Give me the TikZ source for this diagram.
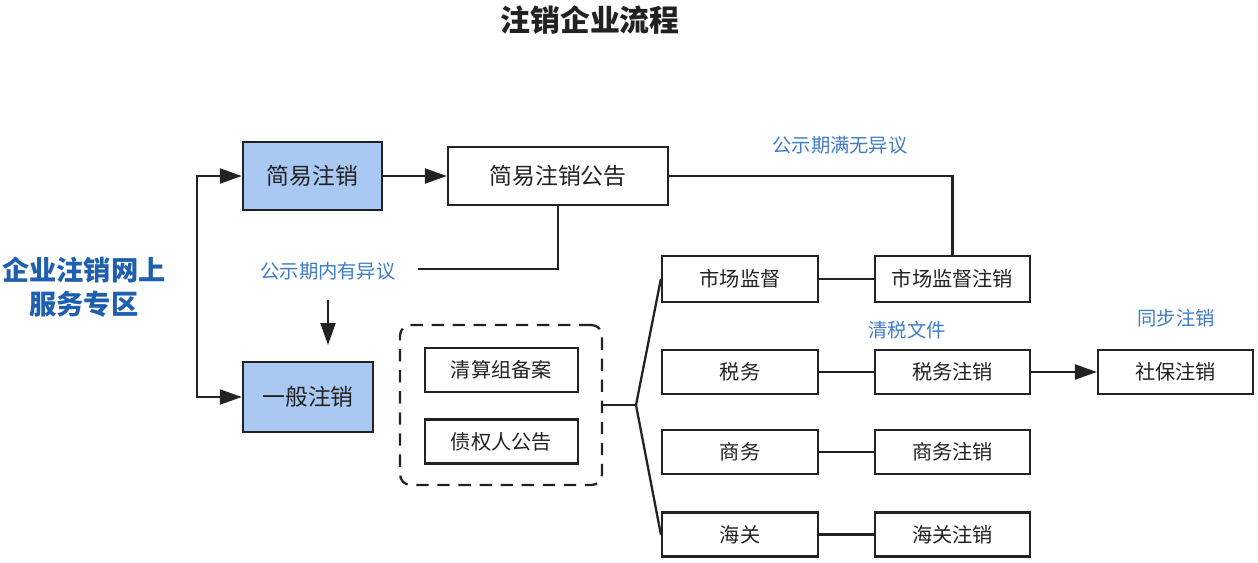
\documentclass[tikz,border=0pt]{standalone}
\usepackage{fontspec}
\setmainfont{Noto Sans CJK SC}
\usetikzlibrary{arrows.meta}
\definecolor{lblue}{HTML}{A9C9F2}
\definecolor{tblue}{HTML}{3F7BC8}
\definecolor{dblue}{HTML}{1E5FAF}
\definecolor{ink}{HTML}{222222}
\begin{document}
\begin{tikzpicture}[x=0.02cm,y=-0.02cm,
  box/.style={draw=ink, line width=1.3pt, fill=white, minimum height=0.88cm, minimum width=3.1cm, font=\fontsize{11.5}{13}\selectfont, text=ink, inner sep=0pt},
  bluebox/.style={draw=ink, line width=1.4pt, fill=lblue, font=\fontsize{13}{15}\selectfont, text=ink, inner sep=0pt},
  lbl/.style={text=tblue, font=\fontsize{11}{13}\selectfont, inner sep=0pt},
  conn/.style={draw=ink, line width=1.3pt},
  arr/.style={conn, -{Triangle[length=0.44cm,width=0.3cm]}}]
\useasboundingbox (0,0) rectangle (1258,562);
% title
\node[font=\fontsize{17}{20}\selectfont\bfseries, text=ink] (title) at (590,20) {注销企业流程};
% left label
\node[font=\fontsize{15.5}{19}\selectfont\bfseries, text=dblue, align=center] (zone) at (84,287) {企业注销网上\\服务专区};
% blue boxes
\node[bluebox, minimum width=2.78cm, minimum height=1.36cm] (jy) at (312.5,176) {简易注销};
\node[bluebox, minimum width=2.6cm, minimum height=1.4cm] (yb) at (308,397) {一般注销};
% announcement
\node[box, font=\fontsize{13}{15}\selectfont, minimum width=4.4cm, minimum height=1.16cm] (gg) at (558,176) {简易注销公告};
% dashed group
\node[draw=ink, line width=1.3pt, dash pattern=on 7pt off 5pt, rounded corners=6pt, minimum width=4.04cm, minimum height=3.2cm] (grp) at (501,405) {};
\node[box, minimum width=3.06cm] (qs) at (501.5,370) {清算组备案};
\node[box, minimum width=3.06cm] (zq) at (501.5,441.5) {债权人公告};
% middle column
\node[box, minimum width=3.12cm, minimum height=0.92cm] (sc) at (740,279) {市场监督};
\node[box, minimum width=3.12cm] (sw) at (740,372) {税务};
\node[box, minimum width=3.12cm] (shw) at (740,452) {商务};
\node[box, minimum width=3.12cm] (hg) at (740,534.5) {海关};
% right column
\node[box, minimum height=0.92cm] (scz) at (952.5,279) {市场监督注销};
\node[box] (swz) at (952.5,372) {税务注销};
\node[box] (shwz) at (952.5,452) {商务注销};
\node[box] (hgz) at (952.5,534.5) {海关注销};
\node[box] (sb) at (1175.5,372) {社保注销};
% labels
\node[lbl] (l1) at (328,271) {公示期内有异议};
\node[lbl] (l2) at (840,145) {公示期满无异议};
\node[lbl] (l3) at (907,330) {清税文件};
\node[lbl] (l4) at (1176,318) {同步注销};
% coordinates
\coordinate (lv) at (197,287);
\coordinate (ret) at (418,269);
\coordinate (da) at (328,300);
\coordinate (db) at (328,345);
\coordinate (j) at (636,405);
% connectors
\draw[arr] (lv) |- (jy.west);
\draw[arr] (lv) |- (yb.west);
\draw[arr] (jy.east) -- (gg.west);
\draw[conn] (gg.south) |- (ret);
\draw[arr] (da) -- (db);
\draw[conn] (gg.east) -| (scz.north);
\draw[conn] (grp.east) -- (j);
\draw[conn] (j) -- (sc.west);
\draw[conn] (j) -- (hg.west);
\draw[conn] (sc) -- (scz);
\draw[conn] (sw) -- (swz);
\draw[conn] (shw) -- (shwz);
\draw[conn] (hg) -- (hgz);
\draw[arr] (swz.east) -- (sb.west);
\end{tikzpicture}
\end{document}
